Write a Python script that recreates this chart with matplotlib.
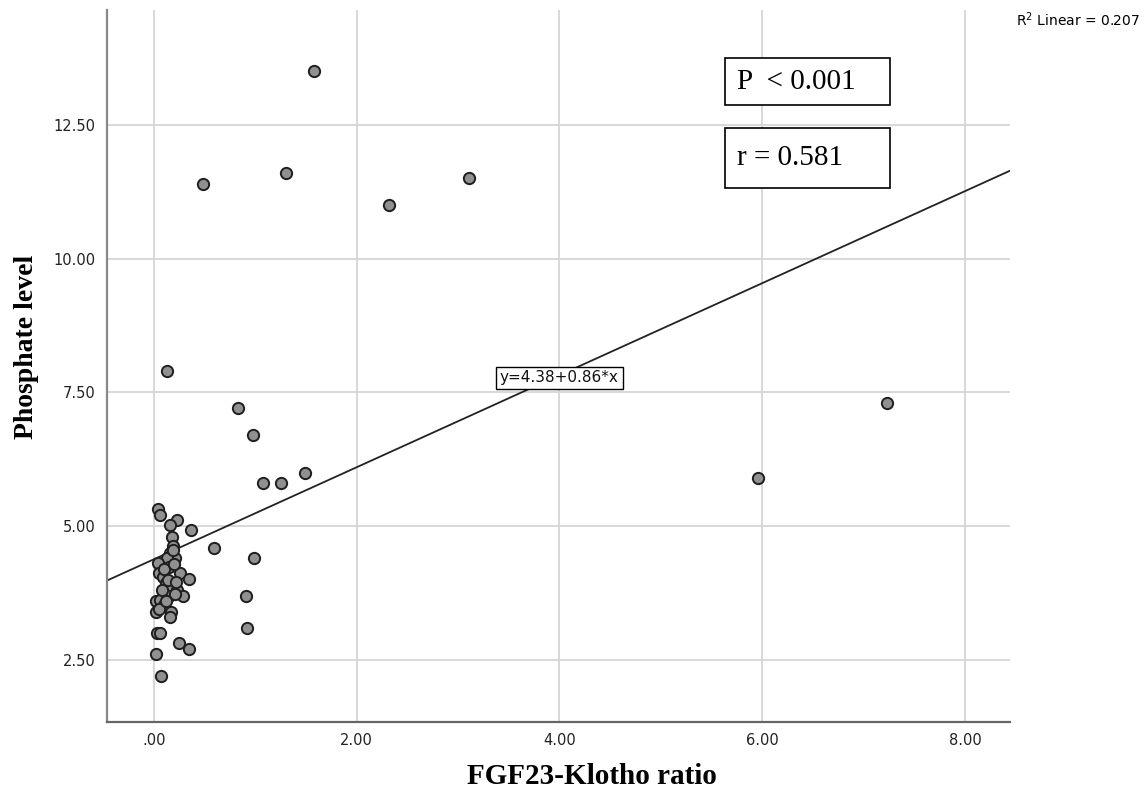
import numpy as np
import matplotlib.pyplot as plt
from matplotlib.patches import Rectangle

# FGF23-Klotho ratio vs phosphate level
ratio = [1.58, 0.49, 1.30, 2.32, 3.11, 0.13, 0.83, 0.98, 1.49, 1.08, 1.26,
         5.96, 7.23, 0.59, 0.99, 0.91, 0.92,
         0.04, 0.06, 0.23, 0.16, 0.37, 0.18, 0.19, 0.16, 0.21, 0.13, 0.04,
         0.15, 0.05, 0.09, 0.26, 0.35, 0.12, 0.18, 0.23, 0.29, 0.15, 0.21,
         0.02, 0.06, 0.10, 0.02, 0.05, 0.17, 0.16, 0.03, 0.06, 0.25, 0.35,
         0.02, 0.07, 0.10, 0.20, 0.08, 0.14, 0.19, 0.12, 0.22]
phosphate = [13.5, 11.4, 11.6, 11.0, 11.5, 7.9, 7.2, 6.7, 6.0, 5.8, 5.8,
             5.9, 7.3, 4.6, 4.4, 3.7, 3.1,
             5.32, 5.21, 5.12, 5.02, 4.92, 4.80, 4.63, 4.49, 4.40, 4.40, 4.32,
             4.24, 4.12, 4.05, 4.12, 4.01, 3.93, 3.88, 3.81, 3.70, 3.70, 3.73,
             3.61, 3.62, 3.53, 3.40, 3.45, 3.40, 3.30, 3.01, 3.01, 2.81, 2.71,
             2.62, 2.21, 4.20, 4.30, 3.80, 4.00, 4.55, 3.60, 3.95]

intercept = 4.38
slope = 0.86
x_ticks = [0, 2, 4, 6, 8]
x_tick_labels = [".00", "2.00", "4.00", "6.00", "8.00"]
y_ticks = [2.5, 5.0, 7.5, 10.0, 12.5]
y_tick_labels = ["2.50", "5.00", "7.50", "10.00", "12.50"]

fig = plt.figure(figsize=(11.47, 8.05), dpi=100)
ax = fig.add_axes([0.0933, 0.103, 0.787, 0.885])

xlim = (-0.46, 8.44)
ylim = (1.34, 14.65)
ax.set_xlim(*xlim)
ax.set_ylim(*ylim)

# grid
ax.set_xticks(x_ticks)
ax.set_xticklabels(x_tick_labels)
ax.set_yticks(y_ticks)
ax.set_yticklabels(y_tick_labels)
ax.grid(True, color="#d6d6d6", linewidth=1.3)
ax.set_axisbelow(True)
ax.tick_params(length=0, labelsize=10.5, colors="#222222", pad=8)

for side in ["top", "right"]:
    ax.spines[side].set_visible(False)
ax.spines["left"].set_color("#888888")
ax.spines["left"].set_linewidth(1.6)
ax.spines["bottom"].set_color("#666666")
ax.spines["bottom"].set_linewidth(1.6)

# fit line
xs = np.array(xlim)
ax.plot(xs, intercept + slope * xs, color="#222222", linewidth=1.3, zorder=2)

# points
ax.scatter(ratio, phosphate, s=66, facecolor="#909090", edgecolor="#1e1e1e",
           linewidth=1.4, zorder=3)

# equation label
ax.text(4.0, 7.77, "y=4.38+0.86*x", ha="center", va="center", fontsize=11,
        color="#111111", zorder=4,
        bbox=dict(boxstyle="square,pad=0.25", facecolor="white",
                  edgecolor="black", linewidth=1.0))

# stats boxes
box_x0 = (725 - 107) / 903
box_w = 165 / 903
ax.add_patch(Rectangle((box_x0, 1 - (105 - 10) / 712), box_w, 47 / 712,
                       transform=ax.transAxes, facecolor="white",
                       edgecolor="black", linewidth=1.2, zorder=5))
ax.add_patch(Rectangle((box_x0, 1 - (188 - 10) / 712), box_w, 60 / 712,
                       transform=ax.transAxes, facecolor="white",
                       edgecolor="black", linewidth=1.2, zorder=5))
ax.text(box_x0 + 12 / 903, 1 - (82 - 10) / 712, "P  < 0.001",
        transform=ax.transAxes, ha="left", va="center", fontsize=21,
        family="Liberation Serif", zorder=6)
ax.text(box_x0 + 12 / 903, 1 - (158 - 10) / 712, "r = 0.581",
        transform=ax.transAxes, ha="left", va="center", fontsize=21,
        family="Liberation Serif", zorder=6)

fig.text(1140 / 1147, 1 - 20 / 805, r"R$^2$ Linear = 0.207", ha="right",
         va="center", fontsize=10)

fig.text(592 / 1147, 1 - 776 / 805, "FGF23-Klotho ratio", ha="center",
         va="center", fontsize=21, fontweight="bold", family="Liberation Serif")
fig.text(27 / 1147, 1 - 347 / 805, "Phosphate level", ha="center",
         va="center", rotation=90, fontsize=20, fontweight="bold",
         family="Liberation Serif")

fig.savefig("out.png", dpi=100)
